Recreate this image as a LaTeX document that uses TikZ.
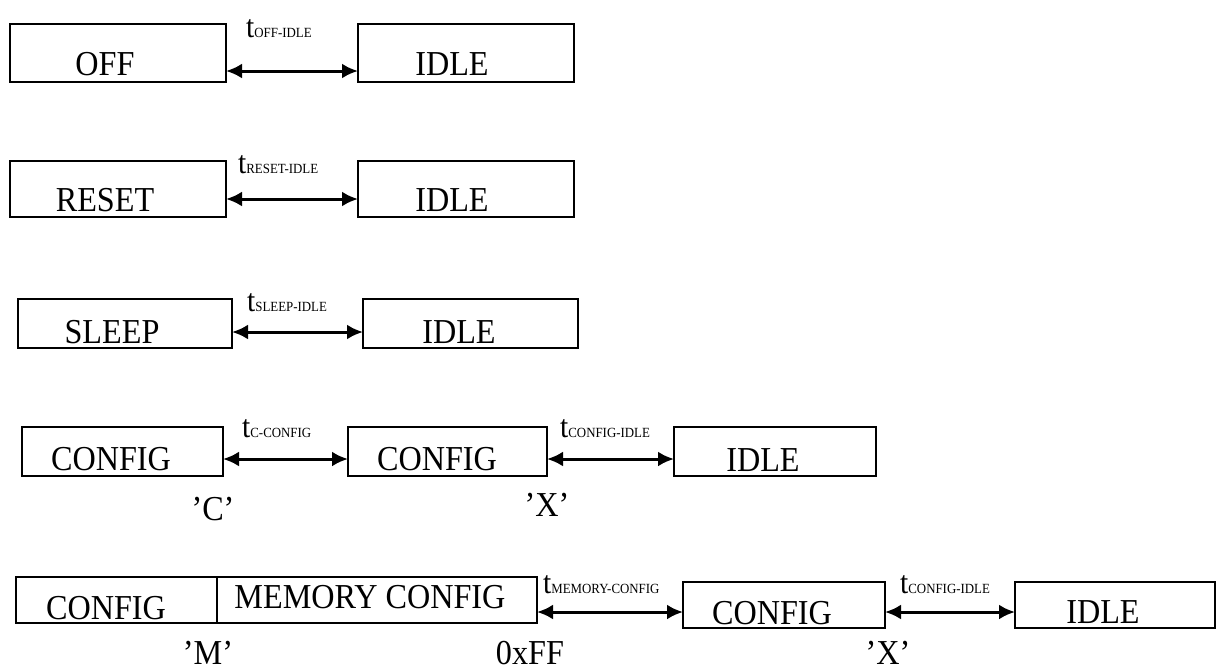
\documentclass[tikz,border=0pt]{standalone}
\usepackage{fontspec}
\setmainfont[FakeStretch=0.92]{Liberation Serif}
\usetikzlibrary{arrows.meta}
\newcommand\tsub[1]{{\fontsize{32}{32}\selectfont t}{\fontsize{14}{14}\selectfont #1}}
\begin{document}
\begin{tikzpicture}[x=1pt,y=-1pt,
	state_box/.style={draw,line width=1.2pt,inner sep=0pt,outer sep=0pt},
	state_txt/.style={anchor=base,inner sep=0pt,font=\fontsize{35}{35}\selectfont},
	time_txt/.style={anchor=base west,inner sep=0pt},
	trans/.style={{Latex[length=16pt,width=15pt]}-{Latex[length=16pt,width=15pt]},line width=3pt}]
	\useasboundingbox (0,0) rectangle (1216,670);
	% row 1
	\node[state_box,minimum width=216pt,minimum height=58pt](off) at (118,53){};
	\node[state_box,minimum width=216pt,minimum height=58pt](idle1) at (466,53){};
	\node[state_txt](offt) at (105,75){OFF};
	\node[state_txt](idle1t) at (452,75){IDLE};
	\node[time_txt](t1) at (246,37){\tsub{OFF-IDLE}};
	\draw[trans]([yshift=11pt]off.south east) -- ([yshift=11pt]idle1.south west);
	% row 2
	\node[state_box,minimum width=216pt,minimum height=56pt](reset) at (118,189){};
	\node[state_box,minimum width=216pt,minimum height=56pt](idle2) at (466,189){};
	\node[state_txt](resett) at (105,211){RESET};
	\node[state_txt](idle2t) at (452,211){IDLE};
	\node[time_txt](t2) at (238,173){\tsub{RESET-IDLE}};
	\draw[trans]([yshift=18pt]reset.south east) -- ([yshift=18pt]idle2.south west);
	% row 3
	\node[state_box,minimum width=214pt,minimum height=49pt](sleep) at (125,323.5){};
	\node[state_box,minimum width=215pt,minimum height=49pt](idle3) at (470.5,323.5){};
	\node[state_txt](sleept) at (112,343){SLEEP};
	\node[state_txt](idle3t) at (459,343){IDLE};
	\node[time_txt](t3) at (247,311){\tsub{SLEEP-IDLE}};
	\draw[trans]([yshift=16pt]sleep.south east) -- ([yshift=16pt]idle3.south west);
	% row 4
	\node[state_box,minimum width=201pt,minimum height=49pt](cfgc) at (122.5,451.5){};
	\node[state_box,minimum width=199pt,minimum height=49pt](cfgx) at (447.5,451.5){};
	\node[state_box,minimum width=202pt,minimum height=49pt](idle4) at (775,451.5){};
	\node[state_txt](cfgct) at (111,470){CONFIG};
	\node[state_txt](cfgxt) at (437,470){CONFIG};
	\node[state_txt](idle4t) at (763,471){IDLE};
	\node[time_txt](t4) at (242,437){\tsub{C-CONFIG}};
	\node[time_txt](t5) at (560,437){\tsub{CONFIG-IDLE}};
	\node[state_txt](keyc) at (213,520){'C'};
	\node[state_txt](keyx) at (547,516){'X'};
	\draw[trans]([yshift=17pt]cfgc.south east) -- ([yshift=17pt]cfgx.south west);
	\draw[trans]([yshift=17pt]cfgx.south east) -- ([yshift=17pt]idle4.south west);
	% row 5
	\node[state_box,minimum width=201pt,minimum height=46pt](cfgm) at (116.5,600){};
	\node[state_box,minimum width=320pt,minimum height=46pt](mem) at (377,600){};
	\node[state_box,minimum width=202pt,minimum height=46pt](cfgx2) at (784,605){};
	\node[state_box,minimum width=200pt,minimum height=46pt](idle5) at (1115,605){};
	\node[state_txt](cfgmt) at (106,619){CONFIG};
	\node[state_txt](memt) at (370,608){MEMORY CONFIG};
	\node[state_txt](cfgx2t) at (772,624){CONFIG};
	\node[state_txt](idle5t) at (1103,623){IDLE};
	\node[time_txt](t6) at (543,593){\tsub{MEMORY-CONFIG}};
	\node[time_txt](t7) at (900,593){\tsub{CONFIG-IDLE}};
	\node[state_txt](keym) at (208,664){'M'};
	\node[state_txt](keyff) at (530,664){0xFF};
	\node[state_txt](keyx2) at (888,664){'X'};
	\draw[trans]([yshift=11pt]mem.south east) -- ([yshift=11pt]mem.south east -| cfgx2.west);
	\draw[trans]([yshift=16pt]cfgx2.south east) -- ([yshift=16pt]idle5.south west);
\end{tikzpicture}
\end{document}
